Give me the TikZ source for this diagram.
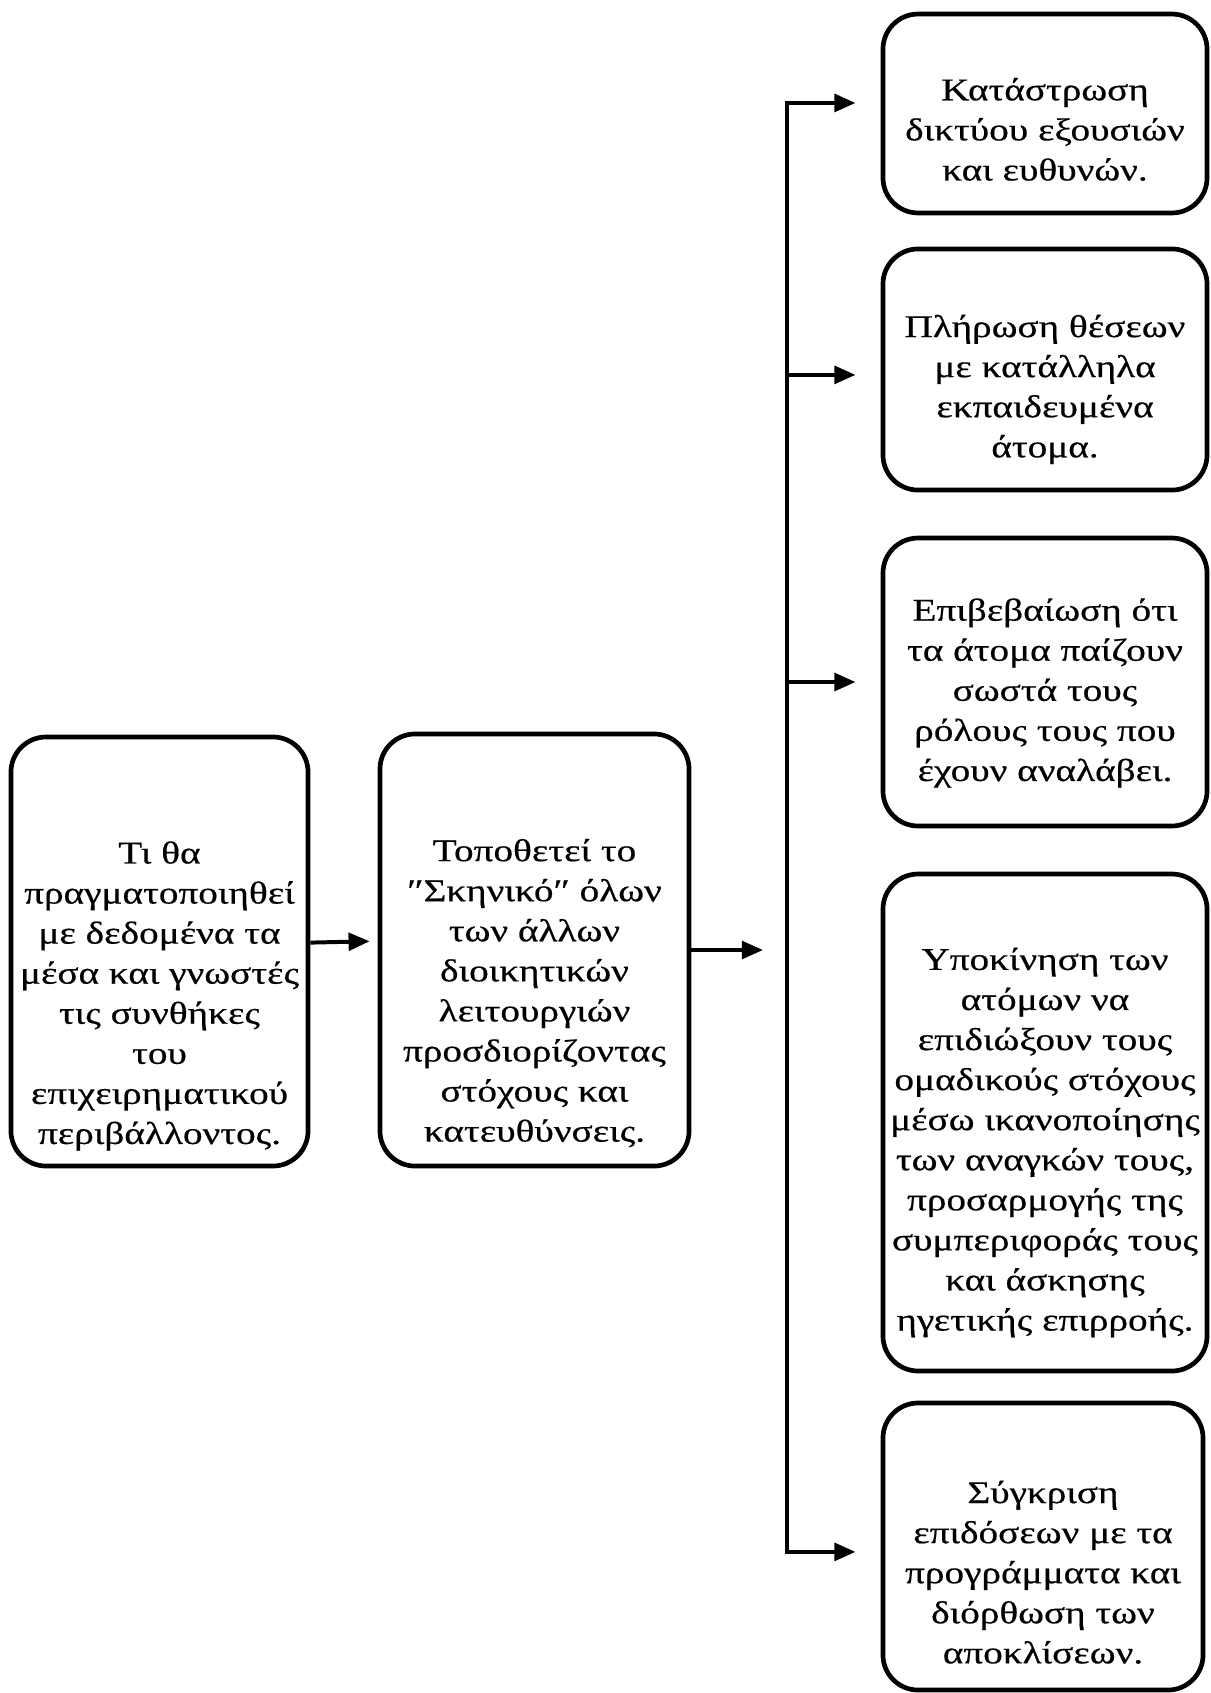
\documentclass[tikz,border=0pt]{standalone}
\usepackage{fontspec}
\setmainfont{Liberation Serif}[FakeStretch=1.24, FakeBold=0.5]
\usetikzlibrary{arrows.meta, positioning}

\begin{document}
\begin{tikzpicture}[x=0.015cm, y=-0.015cm,
                    every node/.style={font=\fontsize{13.5}{17.1}\selectfont, align=center},
                    funcbox/.style={draw, line width=2pt, rounded corners=15pt, inner sep=2pt},
                    flow/.style={-{Triangle[length=9pt, width=7.5pt]}, line width=1.7pt}]
                    \useasboundingbox (0,0) rectangle (1210,1693);
                    \node[funcbox, minimum width=126.8pt, minimum height=183.1pt] (plan) at (159.5,951.5) {};
                    \node (plantext) at (159.5,996) {Τι θα\\πραγματοποιηθεί\\με δεδομένα τα\\μέσα και γνωστές\\τις συνθήκες\\του\\επιχειρηματικού\\περιβάλλοντος.};
                    \node[funcbox, minimum width=131.9pt, minimum height=184.4pt] (setting) at (534.5,950) {};
                    \node (settingtext) at (534.5,993) {Τοποθετεί το\\″Σκηνικό″ όλων\\των άλλων\\διοικητικών\\λειτουργιών\\προσδιορίζοντας\\στόχους και\\κατευθύνσεις.};
                    \node[funcbox, minimum width=138.3pt, minimum height=84.9pt] (org) at (1045,113.5) {};
                    \node (orgtext) at ([yshift=-6.8pt]org.center) {Κατάστρωση\\δικτύου εξουσιών\\και ευθυνών.};
                    \node[funcbox, minimum width=138.3pt, minimum height=102.9pt] (staff) at (1045,369.5) {};
                    \node (stafftext) at ([yshift=-8.5pt]staff.center) {Πλήρωση θέσεων\\με κατάλληλα\\εκπαιδευμένα\\άτομα.};
                    \node[funcbox, minimum width=138.3pt, minimum height=122.9pt] (roles) at (1045,682) {};
                    \node (rolestext) at ([yshift=-4.7pt]roles.center) {Επιβεβαίωση ότι\\τα άτομα παίζουν\\σωστά τους\\ρόλους τους που\\έχουν αναλάβει.};
                    \node[funcbox, minimum width=138.3pt, minimum height=212.1pt] (motive) at (1045,1122.5) {};
                    \node (motivetext) at ([yshift=-8.5pt]motive.center) {Υποκίνηση των\\ατόμων να\\επιδιώξουν τους\\ομαδικούς στόχους\\μέσω ικανοποίησης\\των αναγκών τους,\\προσαρμογής της\\συμπεριφοράς τους\\και άσκησης\\ηγετικής επιρροής.};
                    \node[funcbox, minimum width=136.6pt, minimum height=122.5pt] (review) at (1043,1546.5) {};
                    \node (reviewtext) at ([yshift=-11pt]review.center) {Σύγκριση\\επιδόσεων με τα\\προγράμματα και\\διόρθωση των\\αποκλίσεων.};
                    \coordinate (busx) at (787,0);
                    \coordinate (loose) at (763,950);
                    \draw[flow, shorten >=3.4pt] ([yshift=3.8pt]plan.east) -- ([yshift=3.8pt]setting.west);
                    \draw[flow] (setting.east) -- (loose);
                    \foreach \target/\dy in {org/4.5pt, staff/-2.3pt, roles/0pt, review/-2.3pt} {
                        \coordinate (\target-in) at ([yshift=\dy]\target.west);
                    }
                    \draw[flow, {Triangle[length=9pt, width=7.5pt]}-{Triangle[length=9pt, width=7.5pt]}, shorten <=10.7pt, shorten >=10.7pt]
                        (org-in) -- (org-in -| busx) -- (review-in -| busx) -- (review-in);
                    \foreach \target in {staff, roles} {
                        \draw[flow, shorten >=10.7pt] (\target-in -| busx) -- (\target-in);
                    }
                \end{tikzpicture}
\end{document}
